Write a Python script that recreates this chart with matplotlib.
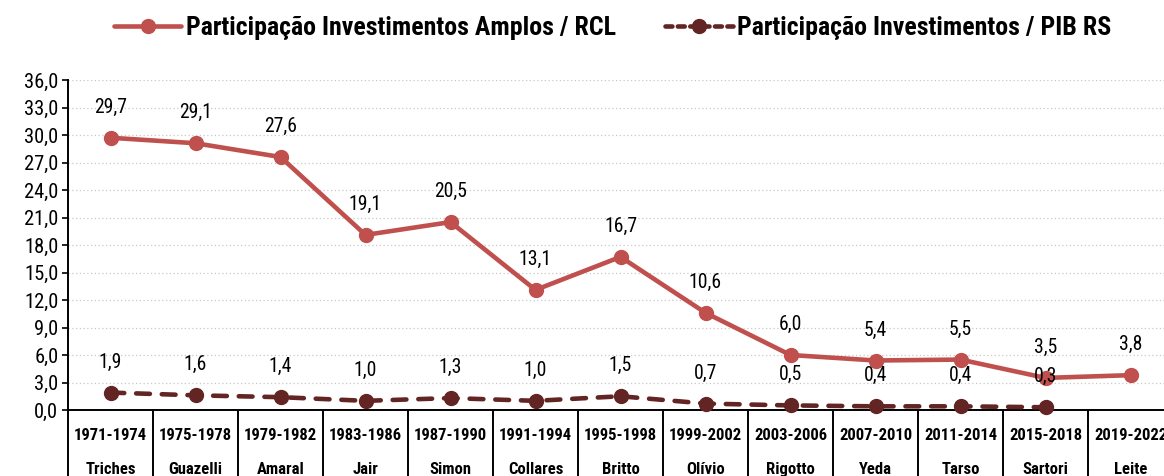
import matplotlib
matplotlib.use("Agg")
import matplotlib.pyplot as plt
from matplotlib import font_manager
from matplotlib.ticker import MultipleLocator, FuncFormatter
from matplotlib.lines import Line2D

available = {f.name for f in font_manager.fontManager.ttflist}
narrow = next((n for n in ['Liberation Sans Narrow', 'Arial Narrow', 'Roboto Condensed']
               if n in available), None)
if narrow:
    plt.rcParams['font.family'] = [narrow, 'DejaVu Sans']
    scale = 1.2
else:
    plt.rcParams['font.family'] = ['Liberation Sans', 'DejaVu Sans']
    scale = 1.0

periods = ["1971-1974", "1975-1978", "1979-1982", "1983-1986", "1987-1990", "1991-1994",
           "1995-1998", "1999-2002", "2003-2006", "2007-2010", "2011-2014", "2015-2018", "2019-2022"]
names = ["Triches", "Guazelli", "Amaral", "Jair", "Simon", "Collares", "Britto", "Olívio",
         "Rigotto", "Yeda", "Tarso", "Sartori", "Leite"]
rcl = [29.7, 29.1, 27.6, 19.1, 20.5, 13.1, 16.7, 10.6, 6.0, 5.4, 5.5, 3.5, 3.8]
pib = [1.9, 1.6, 1.4, 1.0, 1.3, 1.0, 1.5, 0.7, 0.5, 0.4, 0.4, 0.3]

red = "#C0504D"
dark = "#632523"
dash = (0, (3.0, 2.6))

fig = plt.figure(figsize=(11.64, 4.76), dpi=100)
ax = fig.add_axes([68/1164, 66/476, 13*85/1164, 330/476])

x1 = list(range(len(rcl)))
x2 = list(range(len(pib)))
ax.plot(x1, rcl, color=red, lw=3.3, marker='o', ms=10, zorder=3, clip_on=False,
        solid_capstyle='round')
ax.plot(x2, pib, color=dark, lw=3.3, marker='o', ms=10, zorder=3, clip_on=False,
        linestyle=dash, dash_capstyle='round')

lab_fs = 11.8 * scale
for xi, v in zip(x1, rcl):
    ax.annotate(f"{v:.1f}".replace('.', ','), (xi, v), xytext=(0, 22), textcoords='offset points',
                ha='center', va='center', fontsize=lab_fs, color='black')
for xi, v in zip(x2, pib):
    ax.annotate(f"{v:.1f}".replace('.', ','), (xi, v), xytext=(0, 22), textcoords='offset points',
                ha='center', va='center', fontsize=lab_fs, color='black')

ax.set_xlim(-0.5, len(periods) - 0.5)
ax.set_ylim(0, 36)
ax.yaxis.set_major_locator(MultipleLocator(3))
ax.yaxis.set_major_formatter(FuncFormatter(lambda v, p: f"{v:.1f}".replace('.', ',')))
ax.tick_params(axis='y', labelsize=12.3 * scale, length=4, width=1.2, direction='out', pad=3)
ax.grid(axis='y', color='#C8C8C8', linestyle=(0, (1, 2)), lw=0.9)
ax.set_axisbelow(True)

for s in ['top', 'right']:
    ax.spines[s].set_visible(False)
for s in ['left', 'bottom']:
    ax.spines[s].set_linewidth(1.4)
    ax.spines[s].set_color('black')

# category table below axis
ax.set_xticks([])
ax.set_xticks([k - 0.5 for k in range(len(periods) + 1)], minor=True)
ax.tick_params(axis='x', which='minor', length=50, width=1.4, direction='out', color='black')
ax.tick_params(axis='x', which='major', length=0)
cat_fs = 10.0 * scale
for k, (p, n) in enumerate(zip(periods, names)):
    ax.annotate(p, (k, 0), xycoords=('data', 'axes fraction'), xytext=(0, -18.5),
                textcoords='offset points', ha='center', va='center', fontsize=cat_fs,
                fontweight='bold', annotation_clip=False)
    ax.annotate(n, (k, 0), xycoords=('data', 'axes fraction'), xytext=(0, -42.5),
                textcoords='offset points', ha='center', va='center', fontsize=cat_fs,
                fontweight='bold', annotation_clip=False)

handles = [Line2D([], [], color=red, lw=3.3, marker='o', ms=10, solid_capstyle='round'),
           Line2D([], [], color=dark, lw=3.3, marker='o', ms=10, linestyle=(0, (1.5, 1.2)),
                  dash_capstyle='round')]
labels = ["Participação Investimentos Amplos / RCL", "Participação Investimentos / PIB RS"]
fig.legend(handles, labels, loc='center', bbox_to_anchor=(613/1164, 1 - 28/476), ncol=2,
           frameon=False, prop={'weight': 'bold', 'size': 15.5 * scale}, handlelength=2.6,
           handletextpad=0.19, columnspacing=1.9, borderpad=0, borderaxespad=0)

fig.savefig("out.png", dpi=100)
